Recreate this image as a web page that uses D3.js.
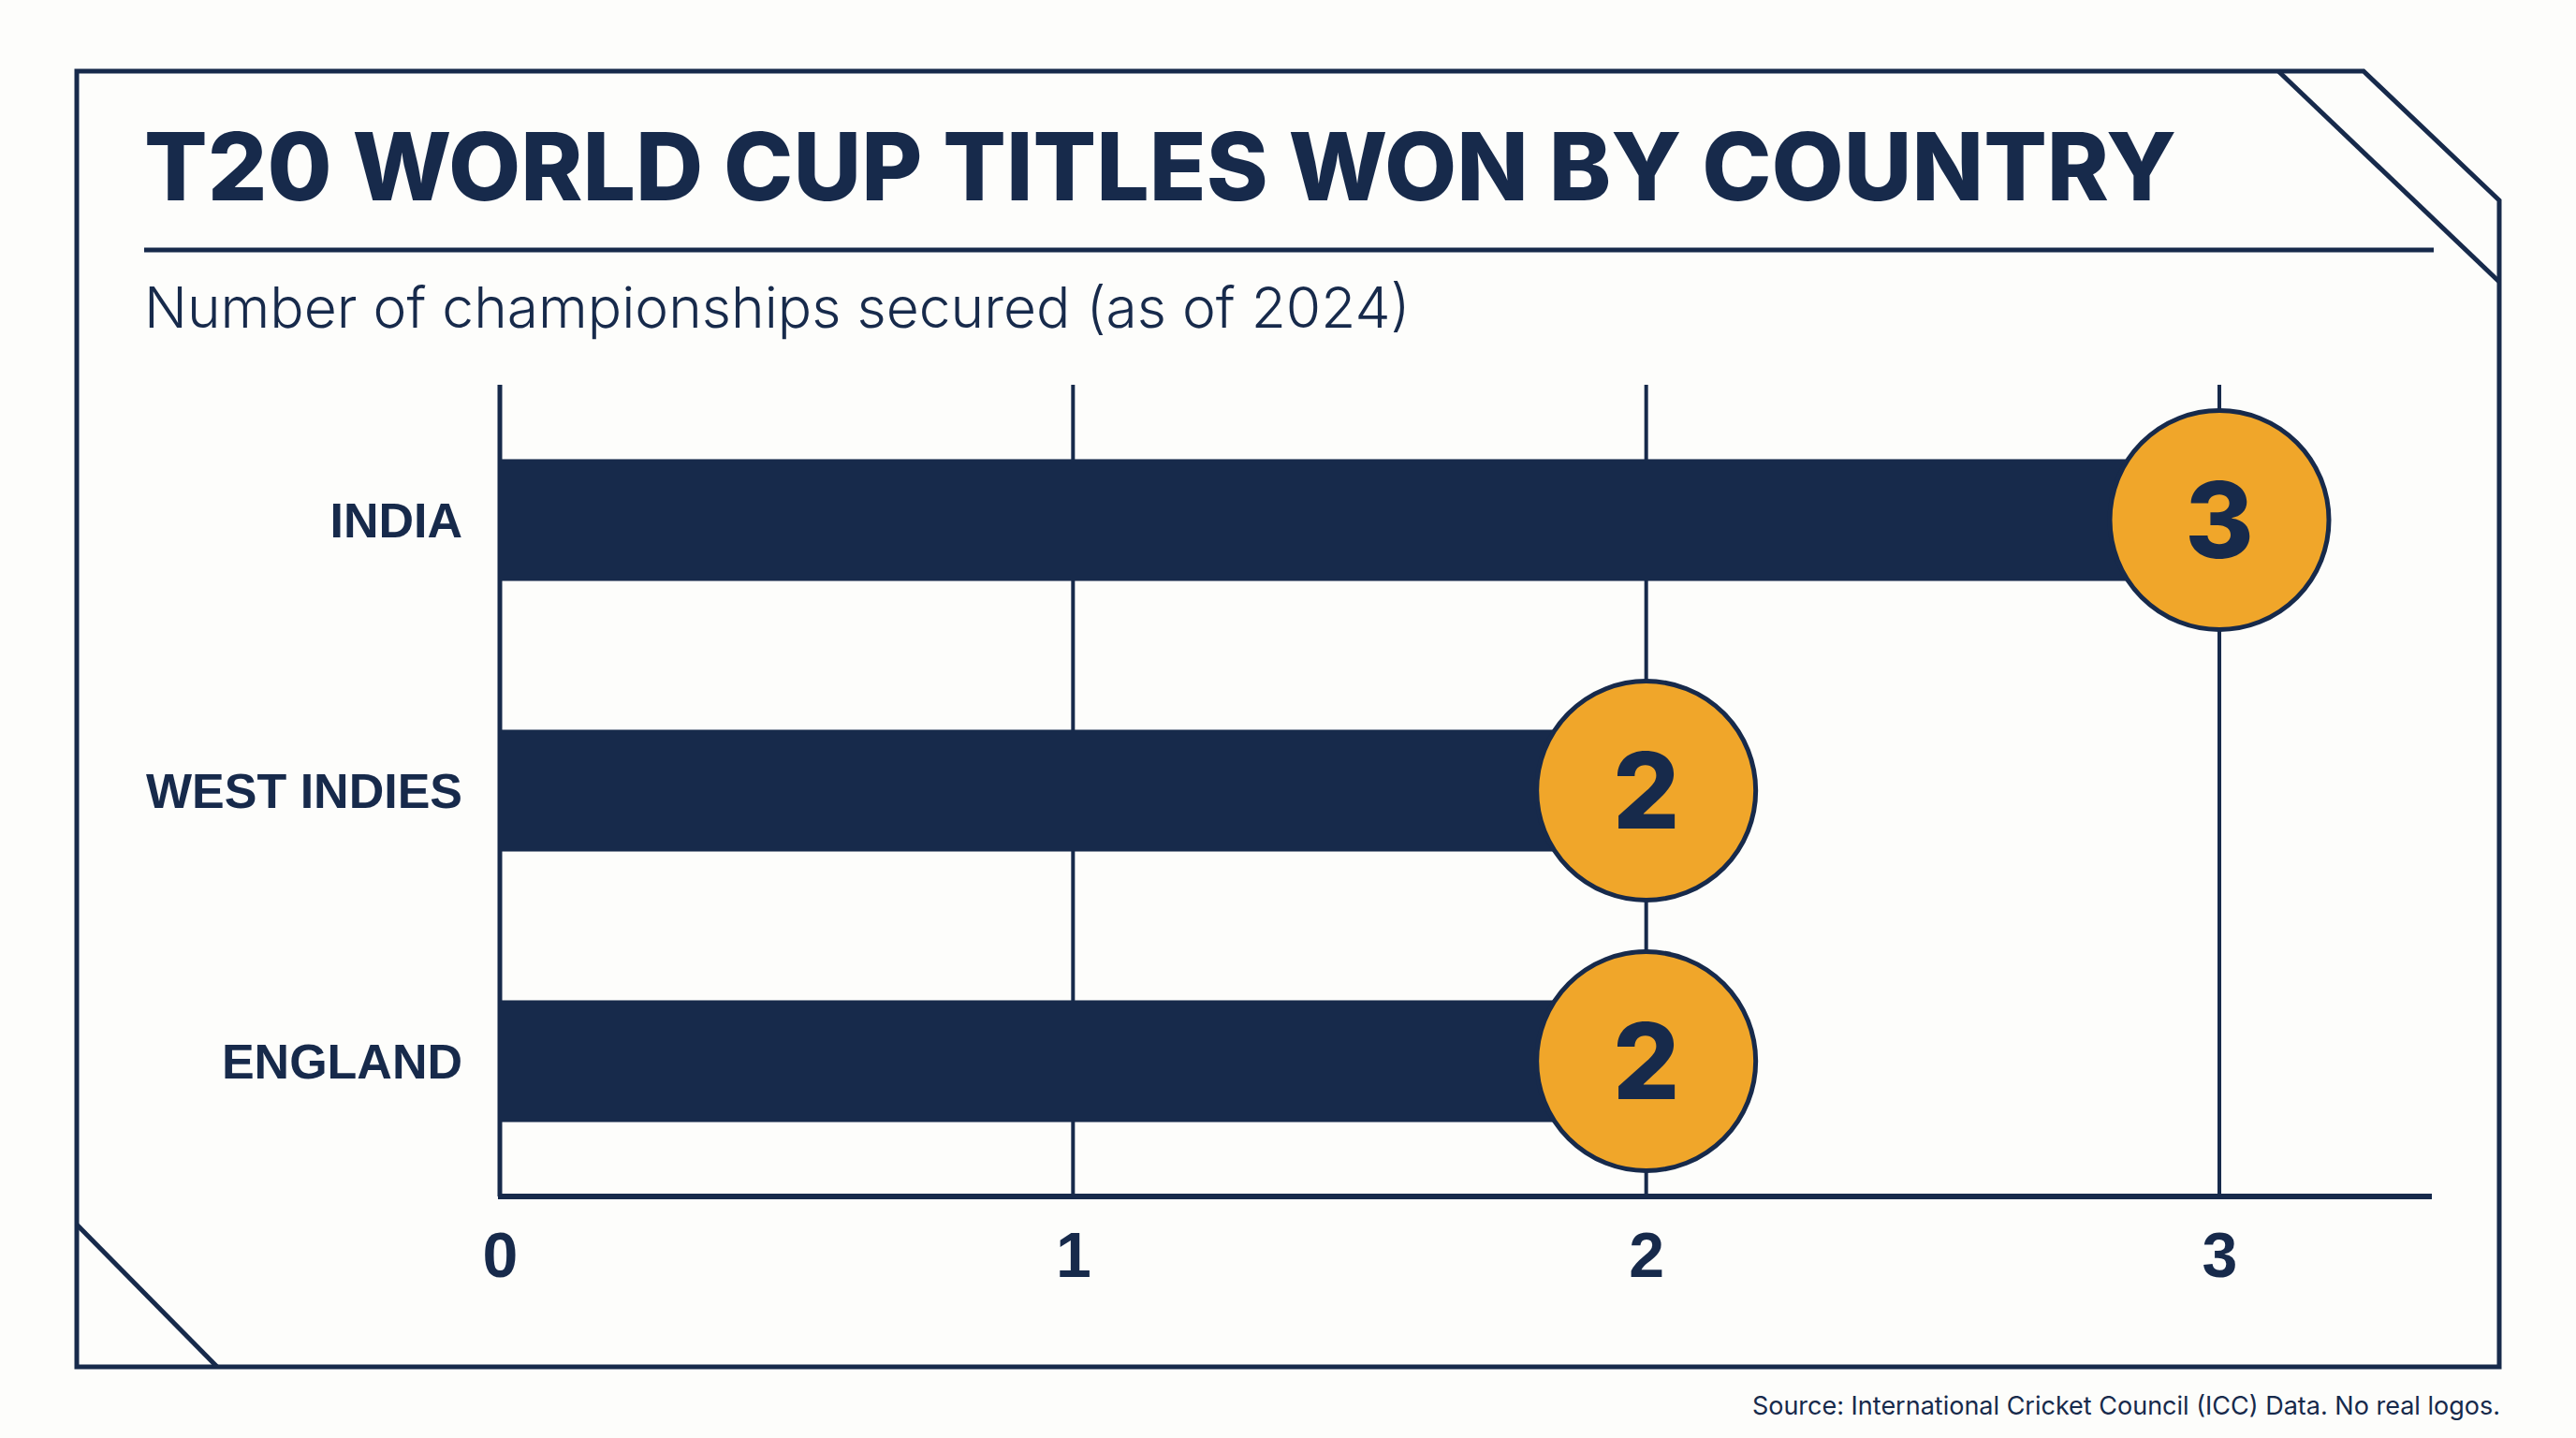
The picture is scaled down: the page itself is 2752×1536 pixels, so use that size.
<!DOCTYPE html>
<html>
<head>
<meta charset="utf-8">
<script src="https://cdn.jsdelivr.net/npm/d3@7"></script>
<style>
  html, body { margin: 0; padding: 0; background: #fdfdfb; }
  svg { display: block; }
</style>
</head>
<body>
<svg id="chart" width="2752" height="1536"></svg>
<script>
// data
var countries = ["INDIA", "WEST INDIES", "ENGLAND"];
var titles = [3, 2, 2];
var ticks = [0, 1, 2, 3];

var titleText = "T20 WORLD CUP TITLES WON BY COUNTRY";
var subtitleText = "Number of championships secured (as of 2024)";
var sourceText = "Source: International Cricket Council (ICC) Data. No real logos.";

var navy = "#172a4b",
    gold = "#f0a62a",
    bg = "#fdfdfb";

var svg = d3.select("#chart"),
    width = +svg.attr("width"),
    height = +svg.attr("height");

svg.append("rect").attr("width", width).attr("height", height).attr("fill", bg);

// frame with cut corners
var fL = 82, fR = 2670, fT = 76, fB = 1460;
svg.append("path")
  .attr("d", "M" + fL + "," + fT + "L2525," + fT + "L" + fR + ",214L" + fR + "," + fB + "L" + fL + "," + fB + "Z")
  .attr("fill", "none").attr("stroke", navy).attr("stroke-width", 5);
// inner diagonal top right
svg.append("line")
  .attr("x1", 2434).attr("y1", fT).attr("x2", fR).attr("y2", 301)
  .attr("stroke", navy).attr("stroke-width", 5);
// diagonal bottom left
svg.append("line")
  .attr("x1", fL).attr("y1", 1308).attr("x2", 232).attr("y2", fB)
  .attr("stroke", navy).attr("stroke-width", 5);

// title block
svg.append("text")
  .attr("x", 154).attr("y", 214)
  .attr("font-family", "Inter, sans-serif")
  .attr("font-weight", 800)
  .attr("font-size", 100)
  .attr("fill", navy)
  .text(titleText);

svg.append("line")
  .attr("x1", 154).attr("x2", 2600).attr("y1", 267).attr("y2", 267)
  .attr("stroke", navy).attr("stroke-width", 5);

svg.append("text")
  .attr("x", 154).attr("y", 350)
  .attr("font-family", "Inter, sans-serif")
  .attr("font-weight", 300)
  .attr("font-size", 60.5)
  .attr("fill", navy)
  .text(subtitleText);

// scales
var x = d3.scaleLinear().domain([0, 3]).range([534, 2371]);
var y = d3.scaleBand().domain(countries).range([411, 1278])
  .paddingInner(0.55).paddingOuter(0.275);

var plotTop = 411, plotBottom = 1278;

// gridlines
svg.append("g").selectAll("line")
  .data(ticks.slice(1))
  .enter().append("line")
  .attr("x1", function(d) { return x(d); })
  .attr("x2", function(d) { return x(d); })
  .attr("y1", plotTop).attr("y2", plotBottom)
  .attr("stroke", navy).attr("stroke-width", 4);

// y axis line
svg.append("line")
  .attr("x1", x(0)).attr("x2", x(0)).attr("y1", plotTop).attr("y2", plotBottom)
  .attr("stroke", navy).attr("stroke-width", 5);

// x axis
var xAxis = d3.axisBottom(x).tickValues(ticks).tickSize(0).tickPadding(38)
  .tickFormat(d3.format("d"));
var gx = svg.append("g")
  .attr("transform", "translate(0," + plotBottom + ")")
  .call(xAxis);
gx.select(".domain").remove();
gx.selectAll("text")
  .attr("font-family", "'Liberation Sans', Arial, sans-serif")
  .attr("font-weight", 700)
  .attr("font-size", 68)
  .attr("fill", navy);
svg.append("line")
  .attr("x1", x(0) - 2).attr("x2", 2598).attr("y1", plotBottom).attr("y2", plotBottom)
  .attr("stroke", navy).attr("stroke-width", 6);

// category labels
svg.append("g").selectAll("text")
  .data(countries)
  .enter().append("text")
  .attr("x", 494)
  .attr("y", function(d) { return y(d) + y.bandwidth() / 2; })
  .attr("dy", "0.36em")
  .attr("text-anchor", "end")
  .attr("font-family", "'Liberation Sans', Arial, sans-serif")
  .attr("font-weight", 700)
  .attr("font-size", 52)
  .attr("fill", navy)
  .text(function(d) { return d; });

// bars
svg.append("g").selectAll("rect")
  .data(countries)
  .enter().append("rect")
  .attr("x", x(0))
  .attr("y", function(d) { return y(d); })
  .attr("width", function(d, i) { return x(titles[i]) - x(0); })
  .attr("height", y.bandwidth())
  .attr("fill", navy);

// value badges
var badge = svg.append("g").selectAll("g")
  .data(countries)
  .enter().append("g")
  .attr("transform", function(d, i) {
    return "translate(" + x(titles[i]) + "," + (y(d) + y.bandwidth() / 2) + ")";
  });

badge.append("circle")
  .attr("r", 117)
  .attr("fill", gold)
  .attr("stroke", navy)
  .attr("stroke-width", 5);

badge.append("text")
  .attr("text-anchor", "middle")
  .attr("dy", "0.36em")
  .attr("font-family", "Inter, sans-serif")
  .attr("font-weight", 800)
  .attr("font-size", 112)
  .attr("fill", navy)
  .text(function(d, i) { return titles[i]; });

// source
svg.append("text")
  .attr("x", 2671).attr("y", 1511)
  .attr("text-anchor", "end")
  .attr("font-family", "Inter, sans-serif")
  .attr("font-weight", 400)
  .attr("font-size", 27)
  .attr("fill", navy)
  .text(sourceText);
</script>
</body>
</html>
